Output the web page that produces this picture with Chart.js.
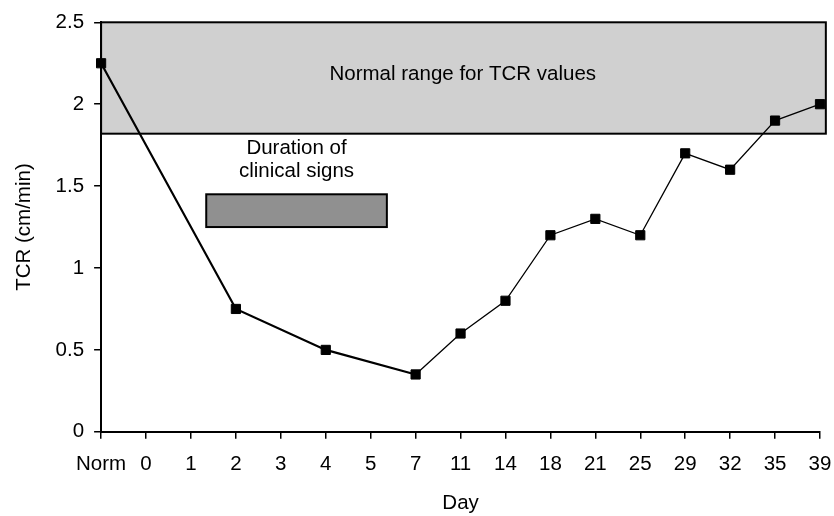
<!DOCTYPE html>
<html>
<head>
<meta charset="utf-8">
<script src="https://cdn.jsdelivr.net/npm/chart.js@4"></script>
<style>
  html, body { margin: 0; padding: 0; background: #fff; }
  #wrap { width: 834px; height: 516px; }
</style>
</head>
<body>
<div id="wrap"><canvas id="tcrChart" width="834" height="516"></canvas></div>
<script>
// Data
const dayLabels = ['Norm', '0', '1', '2', '3', '4', '5', '7', '11', '14', '18', '21', '25', '29', '32', '35', '39'];
const tcrValues = [2.25, null, null, 0.75, null, 0.5, null, 0.35, 0.6, 0.8, 1.2, 1.3, 1.2, 1.7, 1.6, 1.9, 2.0];
const yTicks = [0, 0.5, 1, 1.5, 2, 2.5];

// Shaded areas (in axis units)
const normalRange = { xFrom: 0, xTo: 16.13, yFrom: 1.82, yTo: 2.5, label: 'Normal range for TCR values' };
const clinicalSigns = { xFrom: 2.34, xTo: 6.36, yFrom: 1.25, yTo: 1.45, label: ['Duration of', 'clinical signs'] };

const fontFamily = '"Liberation Sans", Arial, sans-serif';
const fontSize = 20.5;

// Plugin that draws the two boxes behind the line
const boxPlugin = {
    id: 'boxes',
    beforeDatasetsDraw(chart) {
        const ctx = chart.ctx;
        const xs = chart.scales.x;
        const ys = chart.scales.y;

        function drawBox(b, fill) {
            const x1 = xs.getPixelForValue(b.xFrom);
            const x2 = xs.getPixelForValue(b.xTo);
            const y1 = ys.getPixelForValue(b.yTo);
            const y2 = ys.getPixelForValue(b.yFrom);
            ctx.save();
            ctx.fillStyle = fill;
            ctx.strokeStyle = '#000';
            ctx.lineWidth = 2;
            ctx.fillRect(x1, y1, x2 - x1, y2 - y1);
            ctx.strokeRect(x1, y1, x2 - x1, y2 - y1);
            ctx.restore();
        }

        drawBox(normalRange, '#d0d0d0');
        drawBox(clinicalSigns, '#909090');

        ctx.save();
        ctx.fillStyle = '#000';
        ctx.font = fontSize + 'px ' + fontFamily;
        ctx.textAlign = 'center';
        ctx.textBaseline = 'middle';
        ctx.fillText(normalRange.label, xs.getPixelForValue(8.05), ys.getPixelForValue(2.18));
        const cx = xs.getPixelForValue((clinicalSigns.xFrom + clinicalSigns.xTo) / 2);
        ctx.fillText(clinicalSigns.label[0], cx, ys.getPixelForValue(1.73));
        ctx.fillText(clinicalSigns.label[1], cx, ys.getPixelForValue(1.59));
        ctx.restore();
    }
};

const ctx = document.getElementById('tcrChart').getContext('2d');
const tcrChart = new Chart(ctx, {
    type: 'line',
    data: {
        labels: dayLabels,
        datasets: [{
            label: 'TCR',
            data: tcrValues,
            borderColor: '#000',
            backgroundColor: '#000',
            borderWidth: 1.3,
            spanGaps: true,
            fill: false,
            tension: 0,
            pointStyle: 'rect',
            pointRadius: 6.5,
            pointBorderWidth: 1,
            pointBackgroundColor: '#000',
            pointBorderColor: '#000',
            segment: {
                borderWidth: c => (c.p1DataIndex <= 7 ? 2.2 : 1.3)
            }
        }]
    },
    options: {
        responsive: false,
        animation: false,
        layout: { padding: { top: 7, right: 14, left: 12, bottom: 0 } },
        plugins: {
            legend: { display: false },
            tooltip: { enabled: false }
        },
        scales: {
            x: {
                type: 'category',
                offset: false,
                afterFit: scale => {
                    // keep the last label close to the edge like the original
                    scale.paddingRight = 14;
                },
                grid: {
                    drawOnChartArea: false,
                    drawTicks: true,
                    tickLength: 7,
                    color: '#000',
                    lineWidth: 1.5
                },
                border: { display: true, color: '#000', width: 2 },
                ticks: {
                    color: '#000',
                    font: { family: fontFamily, size: fontSize },
                    padding: 13,
                    maxRotation: 0,
                    autoSkip: false
                },
                title: {
                    display: true,
                    text: 'Day',
                    color: '#000',
                    font: { family: fontFamily, size: fontSize },
                    padding: { top: 2, bottom: 0 }
                }
            },
            y: {
                min: 0,
                max: 2.5,
                afterBuildTicks: axis => {
                    axis.ticks = yTicks.map(v => ({ value: v }));
                },
                grid: {
                    drawOnChartArea: false,
                    drawTicks: true,
                    tickLength: 7,
                    color: '#000',
                    lineWidth: 1.5
                },
                border: { display: true, color: '#000', width: 2 },
                ticks: {
                    color: '#000',
                    font: { family: fontFamily, size: fontSize },
                    padding: 10,
                    callback: v => String(v)
                },
                title: {
                    display: true,
                    text: 'TCR (cm/min)',
                    color: '#000',
                    font: { family: fontFamily, size: fontSize },
                    padding: { top: 0, bottom: 9 }
                }
            }
        }
    },
    plugins: [boxPlugin]
});
</script>
</body>
</html>
